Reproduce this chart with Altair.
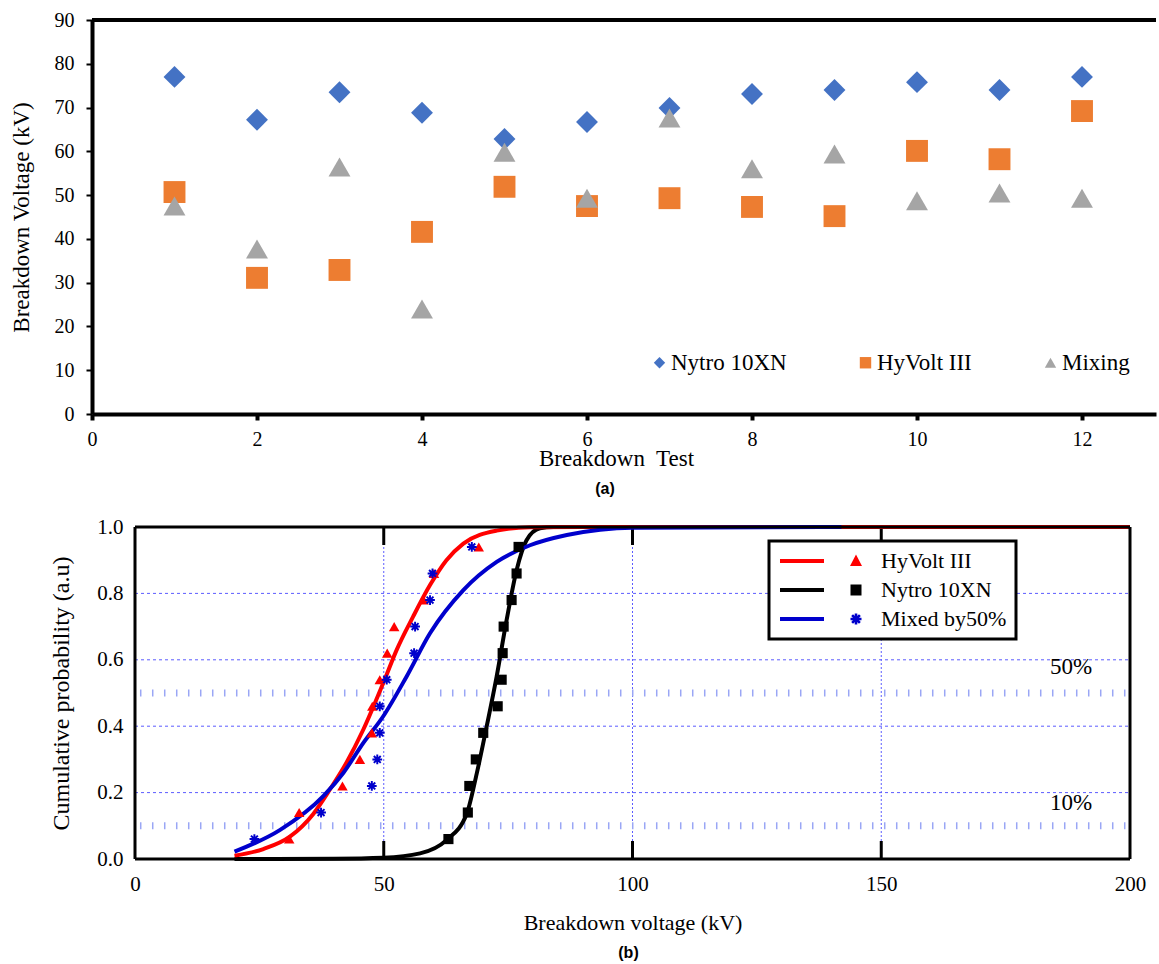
import altair as alt
import pandas as pd

# ---------------- Panel (a) data ----------------
tests = [1, 2, 3, 4, 5, 6, 7, 8, 9, 10, 11, 12]
nytro_a = [77.0, 67.2, 73.5, 68.8, 62.8, 66.7, 69.9, 73.1, 74.0, 75.8, 74.0, 77.0]
hyvolt_a = [50.7, 31.1, 32.9, 41.6, 51.9, 47.5, 49.3, 47.3, 45.2, 60.1, 58.2, 69.2]
mixing_a = [47.5, 37.7, 56.4, 24.0, 59.8, 49.3, 67.6, 56.0, 59.4, 48.7, 50.5, 49.3]
series_a = ["Nytro 10XN", "HyVolt III", "Mixing"]
colors_a = ["#4472C4", "#ED7D31", "#A5A5A5"]
shapes_a = ["diamond", "square", "triangle-up"]
xticks_a = [0, 2, 4, 6, 8, 10, 12]
yticks_a = [0, 10, 20, 30, 40, 50, 60, 70, 80, 90]

# ---------------- Panel (b) data ----------------
series_b = ["HyVolt III", "Nytro 10XN", "Mixed by50%"]
colors_b = ["#FF0000", "#000000", "#0000CC"]
rank_p = [0.06, 0.14, 0.22, 0.30, 0.38, 0.46, 0.54, 0.62, 0.70, 0.78, 0.86, 0.94]
hyvolt_b = [31.0, 33.0, 41.7, 45.2, 47.6, 47.7, 49.2, 50.7, 52.1, 58.0, 60.1, 69.1]
nytro_b = [63.0, 66.9, 67.2, 68.5, 70.0, 72.9, 73.7, 73.9, 74.1, 75.7, 76.7, 77.1]
mixed_b = [24.0, 37.4, 47.6, 48.7, 49.2, 49.2, 50.6, 56.1, 56.3, 59.3, 59.8, 67.7]

hy_curve_kv = [20, 25.8, 31.2, 35.8, 39.2, 42.5, 45.9, 49.9, 52.6, 55.9, 59.3, 62.6, 66.0, 72.7, 79.4, 90, 200]
hy_curve_p = [0.010, 0.030, 0.068, 0.135, 0.21, 0.29, 0.39, 0.53, 0.63, 0.73, 0.825, 0.90, 0.95, 0.989, 0.999, 1.0, 1.0]
ny_curve_kv = [20, 40, 49.9, 57.3, 62.6, 66.7, 68.7, 70.7, 72.7, 74.7, 76.7, 78.7, 81.4, 84.1, 100, 200]
ny_curve_p = [0.0, 0.001, 0.004, 0.017, 0.057, 0.137, 0.258, 0.40, 0.55, 0.72, 0.87, 0.96, 0.996, 1.0, 1.0, 1.0]
mx_curve_kv = [20, 29.1, 37.9, 41.9, 45.9, 49.9, 54.6, 59.3, 66.0, 72.7, 79.4, 86.8, 93.5, 100, 142]
mx_curve_p = [0.022, 0.087, 0.19, 0.26, 0.35, 0.43, 0.55, 0.68, 0.81, 0.895, 0.945, 0.976, 0.992, 0.998, 1.0]

xticks_b = [0, 50, 100, 150, 200]
yticks_b = [0.0, 0.2, 0.4, 0.6, 0.8, 1.0]
vgrid_b = [50, 100, 150]
hgrid_b = [0.2, 0.4, 0.6, 0.8]
ref_levels = [0.1, 0.5]
ann_text = ["50%", "10%"]
ann_x = [192.4, 192.4]
ann_y = [0.578, 0.169]

SERIF = "Times New Roman"
SANS = "Arial"

# ---------------- symbol paths ----------------
def rect(x0, x1, y0, y1):
    return f"M{x0:.3f},{y0:.3f}L{x1:.3f},{y0:.3f}L{x1:.3f},{y1:.3f}L{x0:.3f},{y1:.3f}Z"

def asterisk(cx, r, t):
    parts = [rect(cx - r, cx + r, -t, t), rect(cx - t, cx + t, -r, r)]
    c = 0.70710678
    for sgn in (1, -1):
        pts = []
        for (px_, py_) in [(-r, -t), (r, -t), (r, t), (-r, t)]:
            qx = px_ * c - sgn * py_ * c
            qy = sgn * px_ * c + py_ * c
            pts.append((cx + qx, qy))
        parts.append("M" + "L".join(f"{a:.3f},{b:.3f}" for a, b in pts) + "Z")
    return "".join(parts)

AST_PLOT = asterisk(0, 1.0, 0.2)

U = 6.0
def px(v):
    return v / U
line_part = rect(px(-76), px(-32), px(-2), px(2))
tri_leg = line_part + f"M{px(-6):.3f},{px(5):.3f}L{px(6):.3f},{px(5):.3f}L0,{px(-6.5):.3f}Z"
sq_leg = line_part + rect(px(-5.5), px(5.5), px(-5.5), px(5.5))
ast_leg = line_part + asterisk(0, px(5.5), px(1.3))
LEG_SIZE = (2 * U) ** 2

# ---------------- Panel (a) ----------------
rows_a = []
for name, vals in zip(series_a, [nytro_a, hyvolt_a, mixing_a]):
    for t, v in zip(tests, vals):
        rows_a.append({"test": t, "value": v, "series": name})
df_a = pd.DataFrame(rows_a)

W_A, H_A = 1064, 394
xs_a = alt.Scale(domain=[0, W_A / 82.5], nice=False, zero=False)
ys_a = alt.Scale(domain=[0, 90], nice=False)

leg_a = dict(orient="none", direction="horizontal", legendX=556, legendY=331, title=None,
             labelFont=SERIF, labelFontSize=23, labelColor="black", symbolSize=130,
             columnPadding=67, labelOffset=0, padding=0, symbolStrokeWidth=0)

pts_a = alt.Chart(df_a).mark_point(filled=True, size=480, opacity=1).encode(
    x=alt.X("test:Q", scale=xs_a, axis=alt.Axis(
        values=xticks_a, title="Breakdown\u00a0 Test", titleX=524, titlePadding=-2,
        labelFont=SERIF, labelFontSize=20, labelColor="black", labelPadding=9,
        titleFont=SERIF, titleFontSize=23, titleFontWeight="normal", titleColor="black",
        domainColor="black", domainWidth=4, tickColor="black", tickWidth=4, tickSize=6,
        grid=False, labelFlush=False)),
    y=alt.Y("value:Q", scale=ys_a, axis=alt.Axis(
        values=yticks_a, title="Breakdown Voltage (kV)",
        labelFont=SERIF, labelFontSize=20, labelColor="black", labelPadding=12,
        titleFont=SERIF, titleFontSize=23, titleFontWeight="normal", titleColor="black",
        titlePadding=21, domainColor="black", domainWidth=4, tickColor="black",
        tickWidth=2, tickSize=6, grid=False, labelFlush=False)),
    color=alt.Color("series:N", scale=alt.Scale(domain=series_a, range=colors_a),
                    legend=alt.Legend(**leg_a)),
    shape=alt.Shape("series:N", scale=alt.Scale(domain=series_a, range=shapes_a),
                    legend=alt.Legend(**leg_a)),
)

top_a = alt.Chart(pd.DataFrame({"value": [90]})).mark_rule(color="black", strokeWidth=4).encode(
    y=alt.Y("value:Q", scale=ys_a), x=alt.value(0), x2=alt.value(W_A))

chart_a = alt.layer(pts_a, top_a).properties(
    width=W_A, height=H_A,
    view=alt.ViewBackground(stroke=None),
    title=alt.TitleParams("(a)", orient="bottom", anchor="middle", font=SANS,
                          fontSize=16, fontWeight="bold", color="black", dx=-19, offset=11),
)

# ---------------- Panel (b) ----------------
# the plot area starts at the same left edge as (a); the frame starts 43 px further right
PX_PER_KV = 995 / 200
LEFT_GAP = 43
W_B, H_B = 995 + LEFT_GAP, 332
xs_b = alt.Scale(domain=[-LEFT_GAP / PX_PER_KV, 200], nice=False, zero=False)
ys_b = alt.Scale(domain=[0, 1], nice=False)
x_lo, x_hi = xticks_b[0], xticks_b[-1]

rows_c = []
for name, kv, p in zip(series_b, [hy_curve_kv, ny_curve_kv, mx_curve_kv],
                       [hy_curve_p, ny_curve_p, mx_curve_p]):
    for k, q in zip(kv, p):
        rows_c.append({"kv": k, "p": q, "series": name})
df_c = pd.DataFrame(rows_c)

rows_p = []
for name, kv in zip(series_b, [hyvolt_b, nytro_b, mixed_b]):
    for k, q in zip(kv, rank_p):
        rows_p.append({"kv": k, "p": q, "series": name, "legend_series": name})
df_p = pd.DataFrame(rows_p)

x_b = alt.X("kv:Q", scale=xs_b, axis=alt.Axis(
    values=xticks_b, title="Breakdown voltage (kV)", titleX=LEFT_GAP + 995 / 2,
    labelFont=SERIF, labelFontSize=21,
    labelColor="black", labelPadding=14, titleFont=SERIF, titleFontSize=22,
    titleFontWeight="normal", titleColor="black", titlePadding=18, domain=False,
    ticks=False, grid=False, labelFlush=False))
y_b = alt.Y("p:Q", scale=ys_b, axis=alt.Axis(
    values=yticks_b, format=".1f", title="Cumulative probability (a.u)", offset=-LEFT_GAP,
    labelFont=SERIF, labelFontSize=21, labelColor="black", labelPadding=12,
    titleFont=SERIF, titleFontSize=24, titleFontWeight="normal", titleColor="black",
    titlePadding=23, domain=False, ticks=False, grid=False, labelFlush=False))

frame_h = alt.Chart(pd.DataFrame({"p": [0.0, 1.0], "k0": [x_lo, x_lo], "k1": [x_hi, x_hi]})).mark_rule(
    color="black", strokeWidth=3).encode(
    y=alt.Y("p:Q", scale=ys_b), x=alt.X("k0:Q", scale=xs_b), x2="k1:Q")
frame_v = alt.Chart(pd.DataFrame({"kv": [x_lo, x_hi]})).mark_rule(
    color="black", strokeWidth=3).encode(
    x=alt.X("kv:Q", scale=xs_b), y=alt.value(0), y2=alt.value(H_B))
hgrid = alt.Chart(pd.DataFrame({"p": hgrid_b, "k0": x_lo, "k1": x_hi})).mark_rule(
    color="#5c5cff", strokeWidth=1, strokeDash=[3, 3]).encode(
    y=alt.Y("p:Q", scale=ys_b), x=alt.X("k0:Q", scale=xs_b), x2="k1:Q")
vgrid = alt.Chart(pd.DataFrame({"kv": vgrid_b})).mark_rule(
    color="#5c5cff", strokeWidth=1, strokeDash=[2, 2]).encode(
    x=alt.X("kv:Q", scale=xs_b), y=alt.value(0), y2=alt.value(H_B))
reflines = alt.Chart(pd.DataFrame({"p": ref_levels, "k0": x_lo + 1, "k1": x_hi})).mark_rule(
    color="#9aa6f5", strokeWidth=7, strokeDash=[1.5, 10.5]).encode(
    y=alt.Y("p:Q", scale=ys_b), x=alt.X("k0:Q", scale=xs_b), x2="k1:Q")
tick_top = alt.Chart(pd.DataFrame({"kv": vgrid_b})).mark_rule(
    color="black", strokeWidth=3).encode(
    x=alt.X("kv:Q", scale=xs_b), y=alt.value(0), y2=alt.value(18))
tick_bot = alt.Chart(pd.DataFrame({"kv": vgrid_b})).mark_rule(
    color="black", strokeWidth=3).encode(
    x=alt.X("kv:Q", scale=xs_b), y=alt.value(H_B - 18), y2=alt.value(H_B))

ann = alt.Chart(pd.DataFrame({"kv": ann_x, "p": ann_y, "t": ann_text})).mark_text(
    font=SERIF, fontSize=23, color="black", align="right", baseline="middle").encode(
    x=alt.X("kv:Q", scale=xs_b), y=alt.Y("p:Q", scale=ys_b), text="t:N")

curves = alt.Chart(df_c).mark_line(strokeWidth=4, interpolate="monotone").encode(
    x=x_b, y=y_b,
    color=alt.Color("series:N", scale=alt.Scale(domain=series_b, range=colors_b), legend=None),
    order=alt.Order("kv:Q"),
)
curve_layers = [curves.transform_filter(alt.datum.series == s) for s in
                ["Nytro 10XN", "HyVolt III", "Mixed by50%"]]

pts_b = alt.Chart(df_p).mark_point(filled=True, opacity=1).encode(
    x=alt.X("kv:Q", scale=xs_b), y=alt.Y("p:Q", scale=ys_b),
    color=alt.Color("series:N", scale=alt.Scale(domain=series_b, range=colors_b), legend=None),
    shape=alt.Shape("series:N", scale=alt.Scale(domain=series_b,
                                                 range=["triangle-up", "square", AST_PLOT]),
                    legend=None),
    size=alt.Size("series:N", scale=alt.Scale(domain=series_b, range=[110, 95, 64]), legend=None),
)

leg_props = dict(orient="none", legendX=769 - 92, legendY=14, title=None, labelFont=SERIF,
                 labelFontSize=22, labelColor="black", symbolSize=LEG_SIZE,
                 symbolOffset=67, labelOffset=14, padding=9, rowPadding=7,
                 strokeColor="black", fillColor="white", symbolStrokeWidth=0,
                 symbolOpacity=1)
legend_layer = alt.Chart(df_p).transform_filter("false").mark_point(filled=True, opacity=1).encode(
    x=alt.X("kv:Q", scale=xs_b), y=alt.Y("p:Q", scale=ys_b),
    color=alt.Color("legend_series:N", scale=alt.Scale(domain=series_b, range=colors_b),
                    legend=alt.Legend(**leg_props)),
    shape=alt.Shape("legend_series:N", scale=alt.Scale(domain=series_b,
                                                        range=[tri_leg, sq_leg, ast_leg]),
                    legend=alt.Legend(**leg_props)),
)

chart_b = alt.layer(hgrid, vgrid, reflines, tick_top, tick_bot, *curve_layers, frame_h, frame_v,
                    pts_b, ann, legend_layer).resolve_scale(
    color="independent", shape="independent", size="independent").properties(
    width=W_B, height=H_B,
    view=alt.ViewBackground(stroke=None),
    title=alt.TitleParams("(b)", orient="bottom", anchor="middle", font=SANS,
                          fontSize=16, fontWeight="bold", color="black",
                          dx=LEFT_GAP / 2 - 4, offset=12),
)

chart = alt.vconcat(chart_a, chart_b, spacing=19).properties(
    padding={"left": 10, "top": 10, "right": 0, "bottom": 0},
    background="white",
).configure_view(strokeWidth=0).configure_legend(strokeWidth=3)

chart.save("out.html", embed_options={"renderer": "svg", "actions": False})
